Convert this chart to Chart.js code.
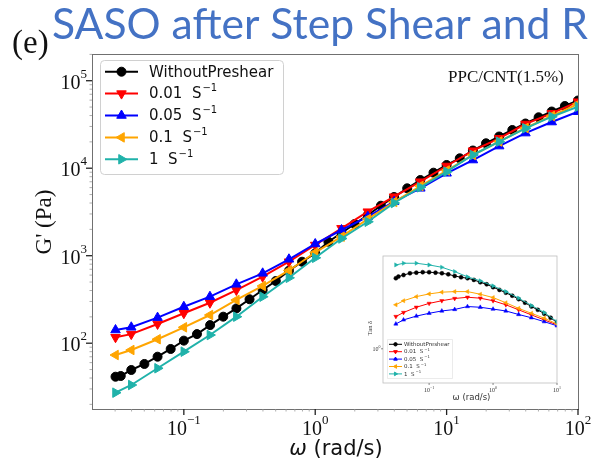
<!DOCTYPE html>
<html><head><meta charset="utf-8">
<script src="https://cdn.jsdelivr.net/npm/chart.js@4/dist/chart.umd.min.js"></script>
<style>
html,body{margin:0;padding:0;background:#fff;}
#wrap{position:relative;width:593px;height:464px;overflow:hidden;background:#fff;}
#main{position:absolute;left:0;top:0;}
#inset{position:absolute;left:360px;top:252px;background:#fff;}
</style></head><body>
<div id="wrap"><canvas id="main" width="593" height="464"></canvas><canvas id="inset" width="216" height="152"></canvas></div>
<script>
// ---------------- data ----------------
const omega = [0.0302, 0.0398, 0.0631, 0.1, 0.158, 0.251, 0.398, 0.631, 1.0, 1.585, 2.512, 3.981, 6.31, 10, 15.85, 25.12, 39.81, 63.1, 100];
const omegaBlack = [0.0302, 0.0331, 0.0398, 0.0501, 0.0631, 0.0794, 0.1, 0.1259, 0.1585, 0.1995, 0.2512, 0.3162, 0.3981, 0.5012, 0.631, 0.7943, 1.0, 1.259, 1.585, 1.995, 2.512, 3.162, 3.981, 5.012, 6.31, 7.943, 10, 12.59, 15.85, 19.95, 25.12, 31.62, 39.81, 50.12, 63.1, 79.43, 100];
const seriesNames = ['WithoutPreshear', '0.01  S⁻¹', '0.05  S⁻¹', '0.1  S⁻¹', '1  S⁻¹'];
const gWithout = [41.4, 42.2, 49.4, 57.9, 70.1, 85.9, 107, 127, 161, 201, 250, 318, 405, 514, 674, 854, 1065, 1445, 1816, 2302, 2918, 3727, 4688, 5890, 7330, 8890, 10890, 12980, 15930, 19270, 23030, 27340, 32430, 38190, 44460, 51400, 59400];
const g001 = [117, 127, 166, 220, 290, 405, 575, 854, 1325, 2057, 3184, 4725, 7010, 10600, 15850, 21970, 32000, 42400, 57500];
const g005 = [141.5, 152, 196, 261, 340, 471, 629, 910, 1361, 1967, 2790, 4140, 5890, 8750, 12400, 17900, 25200, 33700, 44200];
const g01 = [73.3, 83.6, 111, 152, 210, 312, 451, 678, 1088, 1649, 2627, 4110, 6264, 9415, 14160, 20180, 28800, 39500, 54200];
const g1 = [27.2, 33.3, 51.7, 80, 124, 201, 340, 559, 946, 1573, 2446, 4002, 6050, 9120, 14160, 20090, 28580, 38800, 50450];

// inset: tan delta
const omegaInset = omega.slice(0, 14);
const omegaInsetBlack = omegaBlack.slice(0, 27);
const tanWithout = [2.87, 2.94, 3.01, 3.09, 3.12, 3.14, 3.14, 3.12, 3.09, 3.04, 2.97, 2.91, 2.87, 2.80, 2.70, 2.62, 2.51, 2.41, 2.31, 2.21, 2.10, 1.99, 1.88, 1.79, 1.69, 1.59, 1.48];
const tan001 = [1.62, 1.72, 1.86, 1.97, 2.05, 2.12, 2.16, 2.13, 2.05, 1.93, 1.79, 1.66, 1.54, 1.43];
const tan005 = [1.45, 1.54, 1.63, 1.70, 1.76, 1.80, 1.88, 1.86, 1.81, 1.76, 1.67, 1.59, 1.50, 1.41];
const tan01 = [1.93, 2.05, 2.18, 2.27, 2.33, 2.35, 2.35, 2.26, 2.15, 1.99, 1.83, 1.70, 1.58, 1.45];
const tan1 = [3.50, 3.59, 3.59, 3.50, 3.38, 3.17, 2.93, 2.76, 2.56, 2.35, 2.13, 1.91, 1.72, 1.50];

const xTickExps = [-1, 0, 1, 2];
const yTickExps = [2, 3, 4, 5];
const insetXTickExps = [-1, 0, 1];
const insetYTickExps = [0];

const titleText = 'SASO after Step Shear and R';
const panelText = '(e)';
const sampleText = 'PPC/CNT(1.5%)';
const yTitle = "G' (Pa)";
const xTitleSym = 'ω';
const xTitleRest = ' (rad/s)';
const insetYTitle = 'Tan δ';

// ---------------- styles ----------------
const colors = ['#000000', '#ff0000', '#0000ff', '#ffa500', '#20b2aa'];
const styles = [['circle', 0], ['triangle', 180], ['triangle', 0], ['triangle', 270], ['triangle', 90]];

function drawMarker(ctx, style, rot, r, x, y, color) {
  ctx.save();
  ctx.fillStyle = color; ctx.strokeStyle = color; ctx.lineWidth = 1;
  ctx.beginPath();
  if (style === 'circle') { ctx.arc(x, y, r, 0, Math.PI * 2); }
  else {
    let rad = rot * Math.PI / 180;
    for (let i = 0; i < 3; i++) {
      const px = x + Math.sin(rad) * r, py = y - Math.cos(rad) * r;
      if (i === 0) ctx.moveTo(px, py); else ctx.lineTo(px, py);
      rad += 2 * Math.PI / 3;
    }
    ctx.closePath();
  }
  ctx.fill(); ctx.stroke();
  ctx.restore();
}

function makeDs(i, xs, ys, lw, rc, rt) {
  return {
    label: seriesNames[i],
    data: xs.map((x, k) => ({ x: x, y: ys[k] })),
    borderColor: colors[i], backgroundColor: colors[i],
    pointStyle: styles[i][0], pointRotation: styles[i][1],
    pointRadius: styles[i][0] === 'circle' ? rc : rt,
    pointHoverRadius: styles[i][0] === 'circle' ? rc : rt,
    pointBorderWidth: 1, borderWidth: lw, tension: 0,
    order: 5 - i
  };
}

function minorTicks(min, max) {
  const out = [];
  for (let e = Math.floor(Math.log10(min)); e <= Math.ceil(Math.log10(max)); e++)
    for (let k = 2; k <= 9; k++) { const v = k * Math.pow(10, e); if (v > min && v < max) out.push(v); }
  return out;
}
function line(ctx, x1, y1, x2, y2) { ctx.beginPath(); ctx.moveTo(x1, y1); ctx.lineTo(x2, y2); ctx.stroke(); }
function supText(ctx, base, sup, x, y, bf, sf, align, rise) {
  ctx.font = bf; const wb = ctx.measureText(base).width;
  ctx.font = sf; const ws = ctx.measureText(sup).width;
  let x0 = align === 'right' ? x - wb - ws : (align === 'center' ? x - (wb + ws) / 2 : x);
  ctx.textAlign = 'left'; ctx.textBaseline = 'alphabetic';
  ctx.font = bf; ctx.fillText(base, x0, y);
  ctx.font = sf; ctx.fillText(sup, x0 + wb, y - rise);
}
function expStr(e) { return e < 0 ? '−' + Math.abs(e) : String(e); }
function legendLabel(ctx, label, x, y, bf, sf, rise) {
  const parts = label.split('⁻¹');
  ctx.textAlign = 'left'; ctx.textBaseline = 'middle';
  ctx.font = bf; ctx.fillText(parts[0], x, y);
  if (parts.length > 1) {
    const w = ctx.measureText(parts[0]).width;
    ctx.font = sf; ctx.fillText('−1', x + w + 1, y - rise);
  }
}

// ---------------- main chart ----------------
const mainDeco = {
  id: 'mainDeco',
  afterDraw(chart) {
    const ctx = chart.ctx, a = chart.chartArea, xs = chart.scales.x, ys = chart.scales.y;
    ctx.save();
    // frame
    ctx.strokeStyle = '#707070'; ctx.lineWidth = 1;
    ctx.strokeRect(Math.round(a.left) + 0.5, Math.round(a.top) + 0.5, Math.round(a.right - a.left), Math.round(a.bottom - a.top));
    // minor ticks
    ctx.strokeStyle = '#999'; ctx.lineWidth = 0.8;
    minorTicks(xs.min, xs.max).forEach(v => { const p = xs.getPixelForValue(v); line(ctx, p, a.bottom, p, a.bottom + 2.5); });
    minorTicks(ys.min, ys.max).forEach(v => { const p = ys.getPixelForValue(v); line(ctx, a.left - 2.5, p, a.left, p); });
    // major ticks + labels
    ctx.strokeStyle = '#222'; ctx.lineWidth = 1.3; ctx.fillStyle = '#111';
    xTickExps.forEach(e => {
      const p = xs.getPixelForValue(Math.pow(10, e));
      line(ctx, p, a.bottom, p, a.bottom + 6);
      supText(ctx, '10', expStr(e), p, a.bottom + 26, '20px "Liberation Serif"', '13px "Liberation Serif"', 'center', 11);
    });
    yTickExps.forEach(e => {
      const p = ys.getPixelForValue(Math.pow(10, e));
      line(ctx, a.left - 6, p, a.left, p);
      supText(ctx, '10', expStr(e), a.left - 5, p + 8, '20px "Liberation Serif"', '13px "Liberation Serif"', 'right', 11);
    });
    // axis titles
    ctx.fillStyle = '#111';
    ctx.save(); ctx.translate(45, 222); ctx.rotate(-Math.PI / 2);
    ctx.font = '23px "Liberation Serif"'; ctx.textAlign = 'center'; ctx.textBaseline = 'middle';
    ctx.fillText(yTitle, 0, 0); ctx.restore();
    ctx.font = 'italic 21px "DejaVu Sans"'; const w1 = ctx.measureText(xTitleSym).width;
    ctx.font = '21px "DejaVu Sans"'; const w2 = ctx.measureText(xTitleRest).width;
    const x0 = 336 - (w1 + w2) / 2;
    ctx.textAlign = 'left'; ctx.textBaseline = 'alphabetic';
    ctx.font = 'italic 21px "DejaVu Sans"'; ctx.fillText(xTitleSym, x0, 455);
    ctx.font = '21px "DejaVu Sans"'; ctx.fillText(xTitleRest, x0 + w1, 455);
    // sample label
    ctx.font = '17px "Liberation Serif"'; ctx.fillText(sampleText, 448, 82);
    // panel label
    ctx.font = '33px "Liberation Serif"'; ctx.fillText(panelText, 12, 53);
    // title
    ctx.font = '42px Lato'; const tw = ctx.measureText(titleText).width;
    ctx.save(); ctx.translate(52, 39); ctx.scale(536 / tw, 1);
    ctx.fillStyle = '#4472c4'; ctx.fillText(titleText, 0, 0); ctx.restore();
    // legend
    const lx = 100, ly = 60, lw = 183, lh = 114;
    ctx.beginPath();
    if (ctx.roundRect) ctx.roundRect(lx + 0.5, ly + 0.5, lw, lh, 4); else ctx.rect(lx + 0.5, ly + 0.5, lw, lh);
    ctx.fillStyle = 'rgba(255,255,255,0.85)'; ctx.fill();
    ctx.strokeStyle = '#d0d0d0'; ctx.lineWidth = 1; ctx.stroke();
    chart.data.datasets.forEach((ds, i) => {
      const yy = 71.7 + i * 21.9;
      ctx.strokeStyle = colors[i]; ctx.lineWidth = 2; line(ctx, 105, yy, 138, yy);
      drawMarker(ctx, styles[i][0], styles[i][1], styles[i][0] === 'circle' ? 4.5 : 5.5, 121.5, yy, colors[i]);
      ctx.fillStyle = '#111';
      legendLabel(ctx, ds.label, 149, yy + 1, '15px "DejaVu Sans"', '10px "DejaVu Sans"', 6);
    });
    ctx.restore();
  }
};

const mainDatasets = [
  makeDs(0, omegaBlack, gWithout, 2, 4.5, 5.5),
  makeDs(1, omega, g001, 2, 4.5, 5.5),
  makeDs(2, omega, g005, 2, 4.5, 5.5),
  makeDs(3, omega, g01, 2, 4.5, 5.5),
  makeDs(4, omega, g1, 2, 4.5, 5.5)
];

new Chart(document.getElementById('main'), {
  type: 'line',
  data: { datasets: mainDatasets },
  options: {
    responsive: false, animation: false, devicePixelRatio: 1, events: [],
    layout: { padding: { left: 92, top: 54, right: 15, bottom: 55 } },
    plugins: { legend: { display: false }, title: { display: false }, tooltip: { enabled: false } },
    scales: {
      x: { type: 'logarithmic', min: 0.02, max: 100, display: false },
      y: { type: 'logarithmic', min: 17.7, max: 2.02e5, display: false }
    }
  },
  plugins: [mainDeco]
});

// ---------------- inset chart ----------------
const insetDeco = {
  id: 'insetDeco',
  afterDraw(chart) {
    const ctx = chart.ctx, a = chart.chartArea, xs = chart.scales.x, ys = chart.scales.y;
    ctx.save();
    ctx.strokeStyle = '#bdbdbd'; ctx.lineWidth = 0.8;
    ctx.strokeRect(a.left, a.top, a.right - a.left, a.bottom - a.top);
    ctx.strokeStyle = '#555'; ctx.lineWidth = 0.7; ctx.fillStyle = '#333';
    insetXTickExps.forEach(e => {
      const p = xs.getPixelForValue(Math.pow(10, e));
      line(ctx, p, a.bottom, p, a.bottom + 2);
      supText(ctx, '10', expStr(e), p, a.bottom + 9, '6px "Liberation Serif"', '4px "Liberation Serif"', 'center', 3);
    });
    insetYTickExps.forEach(e => {
      const p = ys.getPixelForValue(Math.pow(10, e));
      line(ctx, a.left - 2, p, a.left, p);
      supText(ctx, '10', expStr(e), a.left - 2.5, p + 2, '6px "Liberation Serif"', '4px "Liberation Serif"', 'right', 3);
    });
    ctx.fillStyle = '#333';
    ctx.save(); ctx.translate(10, 76); ctx.rotate(-Math.PI / 2);
    ctx.font = '6.5px "Liberation Serif"'; ctx.textAlign = 'center'; ctx.textBaseline = 'middle';
    ctx.fillText(insetYTitle, 0, 0); ctx.restore();
    ctx.font = '8.5px "DejaVu Sans"'; ctx.textAlign = 'center'; ctx.textBaseline = 'alphabetic';
    ctx.fillText(xTitleSym + xTitleRest, 111.5, 148);
    // legend
    ctx.beginPath(); ctx.rect(27.5, 87.5, 65, 39);
    ctx.fillStyle = 'rgba(255,255,255,0.85)'; ctx.fill();
    ctx.strokeStyle = '#dddddd'; ctx.lineWidth = 0.6; ctx.stroke();
    chart.data.datasets.forEach((ds, i) => {
      const yy = 92.3 + i * 7.4;
      ctx.strokeStyle = colors[i]; ctx.lineWidth = 1; line(ctx, 29, yy, 42, yy);
      drawMarker(ctx, styles[i][0], styles[i][1], styles[i][0] === 'circle' ? 1.7 : 2.1, 35.5, yy, colors[i]);
      ctx.fillStyle = '#333';
      legendLabel(ctx, ds.label, 44, yy + 0.3, '5.5px "DejaVu Sans"', '3.8px "DejaVu Sans"', 2);
    });
    ctx.restore();
  }
};

const insetDatasets = [
  makeDs(0, omegaInsetBlack, tanWithout, 1, 2, 2.4),
  makeDs(1, omegaInset, tan001, 1, 2, 2.4),
  makeDs(2, omegaInset, tan005, 1, 2, 2.4),
  makeDs(3, omegaInset, tan01, 1, 2, 2.4),
  makeDs(4, omegaInset, tan1, 1, 2, 2.4)
];
insetDatasets.forEach(d => { d.pointBorderWidth = 0.5; });

new Chart(document.getElementById('inset'), {
  type: 'line',
  data: { datasets: insetDatasets },
  options: {
    responsive: false, animation: false, devicePixelRatio: 1, events: [],
    layout: { padding: { left: 23, top: 4, right: 19, bottom: 21 } },
    plugins: { legend: { display: false }, title: { display: false }, tooltip: { enabled: false } },
    scales: {
      x: { type: 'logarithmic', min: 0.019, max: 10, display: false },
      y: { type: 'logarithmic', min: 0.6, max: 4.0, display: false }
    }
  },
  plugins: [insetDeco]
});
</script>
</body></html>
